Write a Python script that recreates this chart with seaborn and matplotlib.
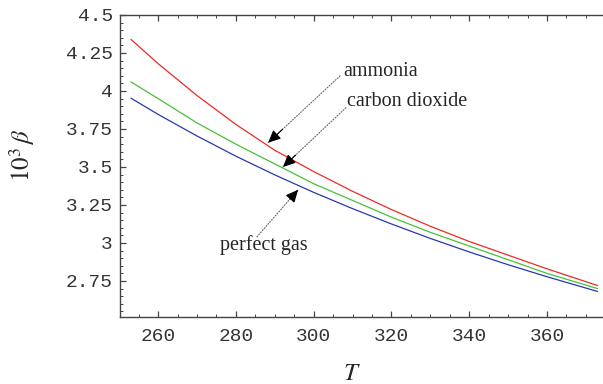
import matplotlib
matplotlib.use("Agg")
import matplotlib.pyplot as plt
import seaborn as sns
import pandas as pd
from matplotlib.ticker import MultipleLocator, FixedLocator

T = [253, 260, 270, 280, 290, 300, 310, 320, 330, 340, 350, 360, 373]
perfect_gas = [3.953, 3.846, 3.704, 3.571, 3.448, 3.333, 3.226, 3.125, 3.030, 2.941, 2.857, 2.778, 2.681]
ammonia = [4.34, 4.18, 3.97, 3.78, 3.61, 3.47, 3.34, 3.22, 3.11, 3.01, 2.92, 2.83, 2.72]
carbon_dioxide = [4.06, 3.95, 3.79, 3.65, 3.52, 3.39, 3.28, 3.17, 3.07, 2.98, 2.89, 2.80, 2.70]

y_ticks = [2.75, 3.0, 3.25, 3.5, 3.75, 4.0, 4.25, 4.5]
y_tick_labels = ["2.75", "3", "3.25", "3.5", "3.75", "4", "4.25", "4.5"]
x_ticks = [260, 280, 300, 320, 340, 360]

sns.set_style("ticks")
plt.rcParams["font.family"] = ["Liberation Serif", "DejaVu Serif"]
plt.rcParams["mathtext.fontset"] = "stix"

df = pd.concat([
    pd.DataFrame({"T": T, "beta": ammonia, "gas": "ammonia"}),
    pd.DataFrame({"T": T, "beta": carbon_dioxide, "gas": "carbon dioxide"}),
    pd.DataFrame({"T": T, "beta": perfect_gas, "gas": "perfect gas"}),
])
palette = {"ammonia": "#ee2b22", "carbon dioxide": "#48c038", "perfect gas": "#2838b0"}

fig = plt.figure(figsize=(6.03, 3.84), dpi=100)
ax = fig.add_axes([120 / 603, 1 - 317 / 384, 1 - 120 / 603, (317 - 15) / 384])
sns.lineplot(data=df, x="T", y="beta", hue="gas", palette=palette, ax=ax,
             legend=False, linewidth=0.9, estimator=None, sort=False)

ax.set_xlim(250.2, 374.4)
ax.set_ylim(2.513, 4.5)
ax.xaxis.set_major_locator(FixedLocator(x_ticks))
ax.xaxis.set_minor_locator(MultipleLocator(5))
ax.yaxis.set_major_locator(FixedLocator(y_ticks))
ax.yaxis.set_minor_locator(MultipleLocator(0.05))
ax.set_yticklabels(y_tick_labels)

spine_c = "#444444"
for s in ["left", "bottom", "top"]:
    ax.spines[s].set_color(spine_c)
    ax.spines[s].set_linewidth(1.0)
ax.spines["right"].set_visible(False)

ax.tick_params(which="both", direction="in", top=True, right=False, colors=spine_c,
               labelcolor="#333333")
ax.tick_params(which="major", length=4.5, width=0.9)
ax.tick_params(which="minor", length=2.2, width=0.7)
ax.tick_params(axis="x", which="major", pad=8)
ax.tick_params(axis="y", which="major", pad=5)
for lab in ax.get_xticklabels() + ax.get_yticklabels():
    lab.set_family(["Liberation Mono", "DejaVu Sans Mono"])
    lab.set_fontsize(14)

ax.set_xlabel(r"$T$", fontsize=18)
ax.xaxis.set_label_coords((352 - 120) / 483, (317 - 363) / 302)
ax.set_ylabel(r"$10^3\,\beta$", fontsize=18)
ax.yaxis.set_label_coords((37 - 120) / 483, (317 - 155) / 302)

line_kw = dict(arrowstyle="-", color="#666666", linestyle=(0, (1, 1.5)),
               linewidth=0.8, shrinkA=0, shrinkB=0)
head_kw = dict(arrowstyle="-|>,head_length=0.75,head_width=0.35", color="black",
               linewidth=0.8, shrinkA=0, shrinkB=0)
arrows = [((288.3, 3.66), (306.8, 4.10)),
          ((292.1, 3.50), (308.3, 3.89)),
          ((296.0, 3.35), (285.4, 3.04))]
for tip, tail in arrows:
    ax.annotate("", xy=tip, xytext=tail, arrowprops=line_kw)
    mid = (tip[0] + (tail[0] - tip[0]) * 0.2, tip[1] + (tail[1] - tip[1]) * 0.2)
    ax.annotate("", xy=tip, xytext=mid, arrowprops=head_kw)

ax.text(307.6, 4.125, "ammonia", fontsize=14.5, ha="left", va="center")
ax.text(308.6, 3.93, "carbon dioxide", fontsize=14.5, ha="left", va="center")
ax.text(287.1, 2.987, "perfect gas", fontsize=14.5, ha="center", va="center")

fig.savefig("out.png", dpi=100)
